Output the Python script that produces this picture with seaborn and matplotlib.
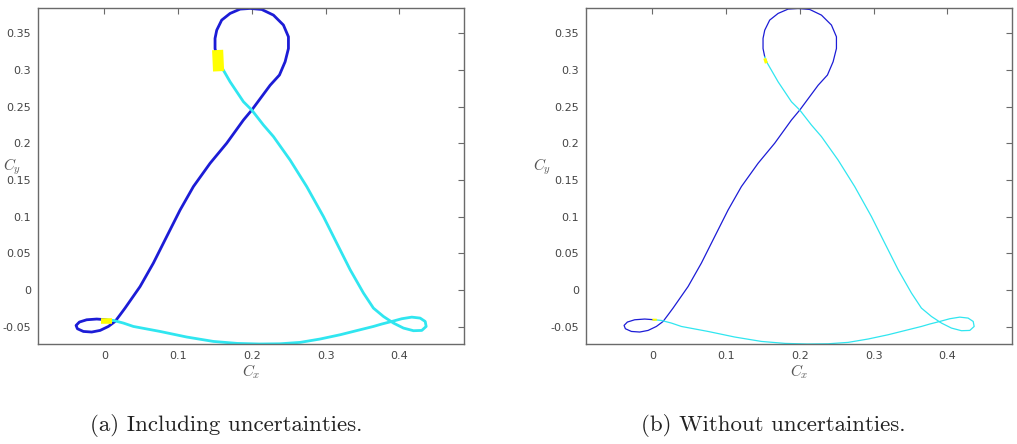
import numpy as np
import pandas as pd
import matplotlib
matplotlib.use("Agg")
import matplotlib.pyplot as plt
import seaborn as sns

# trajectory (Cx, Cy)
blue_cx = [0.003, -0.0104, -0.024, -0.0339, -0.0384, -0.0366, -0.0285, -0.0172, -0.0058, 0.0054,
           0.0145, 0.0213, 0.028, 0.0484, 0.0664, 0.0845, 0.1026, 0.1207, 0.1433, 0.1658,
           0.1885, 0.1998, 0.2247, 0.2373, 0.245, 0.2495, 0.2495, 0.2427, 0.2292, 0.2133,
           0.1976, 0.184, 0.1704, 0.159, 0.1523, 0.150, 0.150, 0.1523]
blue_cy = [-0.0405, -0.0395, -0.0405, -0.0436, -0.0482, -0.0527, -0.0564, -0.0572, -0.055, -0.0496,
           -0.0428, -0.0337, -0.0246, 0.0048, 0.0367, 0.0729, 0.109, 0.141, 0.1727, 0.200,
           0.2316, 0.2452, 0.279, 0.2929, 0.311, 0.329, 0.345, 0.361, 0.3745, 0.3822,
           0.3836, 0.3827, 0.3768, 0.3677, 0.354, 0.3428, 0.329, 0.3177]

cyan_cx = [0.1523, 0.156, 0.1704, 0.1885, 0.1998, 0.2156, 0.2292, 0.2518, 0.2743, 0.297,
           0.315, 0.3332, 0.3512, 0.3647, 0.3783, 0.3919, 0.4054, 0.419, 0.4303, 0.4362,
           0.4349, 0.428, 0.4167, 0.4031, 0.3896, 0.376, 0.3647, 0.3467, 0.3196, 0.2925,
           0.2654, 0.2382, 0.21, 0.18, 0.1478, 0.1116, 0.0755, 0.0393, 0.0258, 0.0122, 0.003]
cyan_cy = [0.3177, 0.3088, 0.2837, 0.2565, 0.2452, 0.2248, 0.209, 0.177, 0.1409, 0.1,
           0.0639, 0.0276, -0.0041, -0.0246, -0.036, -0.045, -0.0518, -0.0554, -0.055, -0.0496,
           -0.0428, -0.0382, -0.0369, -0.0391, -0.0428, -0.0463, -0.0496, -0.0541, -0.0609, -0.0667,
           -0.0713, -0.0732, -0.0735, -0.0727, -0.070, -0.064, -0.0564, -0.0496, -0.045, -0.0414, -0.0405]

# yellow switching parts
yel_top_a_cx = [0.1535, 0.1548]
yel_top_a_cy = [0.327, 0.298]
yel_bot_a_cx = [-0.004, 0.010]
yel_bot_a_cy = [-0.0425, -0.0425]
yel_top_b_cx = [0.1523, 0.1545]
yel_top_b_cy = [0.3156, 0.309]
yel_bot_b_cx = [0.000, 0.006]
yel_bot_b_cy = [-0.0403, -0.0405]

xticks = [0, 0.1, 0.2, 0.3, 0.4]
yticks = [-0.05, 0, 0.05, 0.1, 0.15, 0.2, 0.25, 0.3, 0.35]
captions = ["(a) Including uncertainties.", "(b) Without uncertainties."]

sns.set_style("white")
plt.rcParams["font.family"] = ["DejaVu Sans"]
plt.rcParams["mathtext.fontset"] = "cm"

BLUE = "#1c1cd6"
CYAN = "#30e6f0"
YEL = "#ffff00"
GREY = "#6a6a6a"

fig = plt.figure(figsize=(10.17, 4.44), dpi=100)
ax1 = fig.add_axes([38 / 1017, 100 / 444, 426 / 1017, 336 / 444])
ax2 = fig.add_axes([586 / 1017, 100 / 444, 426 / 1017, 336 / 444])

blue = pd.DataFrame({"Cx": blue_cx, "Cy": blue_cy})
cyan = pd.DataFrame({"Cx": cyan_cx, "Cy": cyan_cy})

panels = [
    (ax1, 2.0, (yel_top_a_cx, yel_top_a_cy), (yel_bot_a_cx, yel_bot_a_cy), captions[0], 226, -0.06),
    (ax2, 0.9, (yel_top_b_cx, yel_top_b_cy), (yel_bot_b_cx, yel_bot_b_cy), captions[1], 773, -0.103),
]
for ax, lw, yt, yb, cap, cx, ylx in panels:
    sns.lineplot(data=blue, x="Cx", y="Cy", sort=False, estimator=None, color=BLUE, lw=lw, ax=ax,
                 solid_joinstyle="round", solid_capstyle="round")
    sns.lineplot(data=cyan, x="Cx", y="Cy", sort=False, estimator=None, color=CYAN, lw=lw, ax=ax,
                 solid_joinstyle="round", solid_capstyle="round")
    big = ax is ax1
    ax.plot(yt[0], yt[1], color=YEL, lw=8 if big else 2.2, solid_capstyle="butt")
    ax.plot(yb[0], yb[1], color=YEL, lw=4 if big else 1.5, solid_capstyle="butt")

    ax.set_xlim(-0.09, 0.4875)
    ax.set_ylim(-0.0735, 0.3842)
    ax.set_xticks(xticks)
    ax.set_xticklabels(["0", "0.1", "0.2", "0.3", "0.4"])
    ax.set_yticks(yticks)
    ax.set_yticklabels(["-0.05", "0", "0.05", "0.1", "0.15", "0.2", "0.25", "0.3", "0.35"])
    ax.tick_params(direction="in", length=4, width=0.8, color=GREY, labelcolor="#444444",
                   labelsize=8, top=True, right=True, pad=5)
    for s in ax.spines.values():
        s.set_color(GREY)
        s.set_linewidth(1.0)
    ax.set_xlabel(r"$C_x$", fontsize=11, color="#555555")
    ax.xaxis.set_label_coords(0.5, -28 / 336)
    ax.xaxis.label.set_va("center")
    ax.set_ylabel(r"$C_y$", fontsize=11, color="#555555", rotation=0)
    ax.yaxis.set_label_coords(ylx, 0.527)
    ax.yaxis.label.set_va("center")
    ax.yaxis.label.set_ha("center")
    fig.text(cx / 1017, 19 / 444, cap, fontfamily="cmr10", fontsize=16.5,
             color="#222222", ha="center", va="center")

fig.savefig("out.png", dpi=100)
